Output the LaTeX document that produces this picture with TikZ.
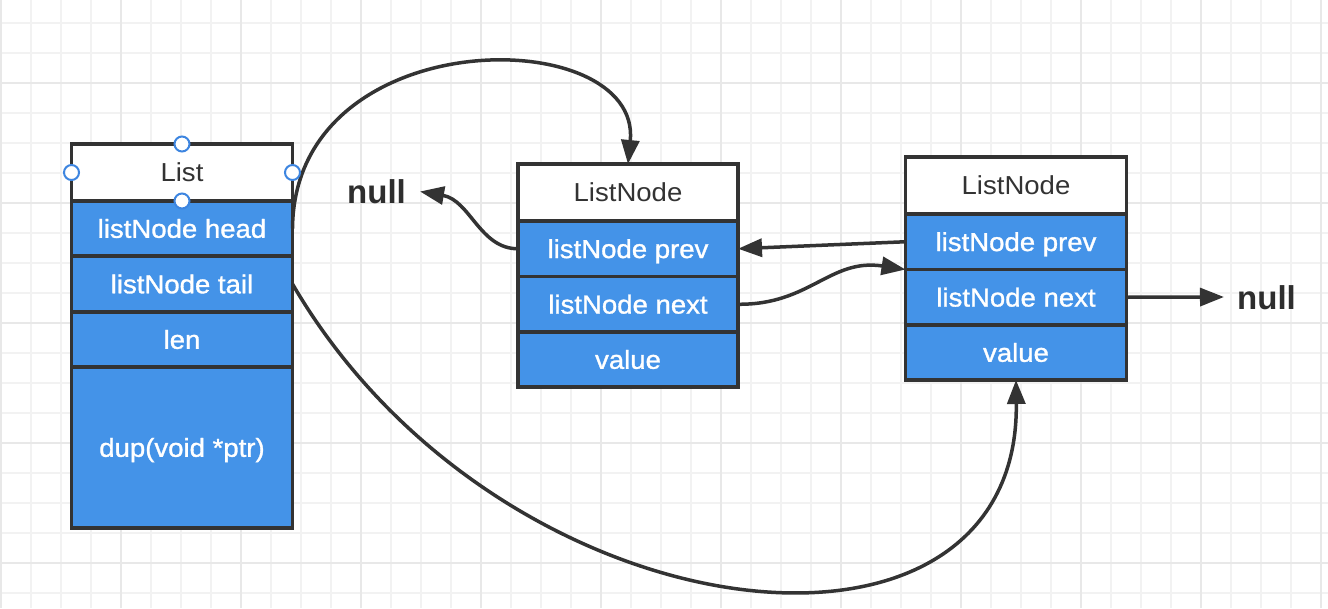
\documentclass[tikz,border=0pt]{standalone}
\usepackage{fontspec}
\setmainfont{Liberation Sans}[FakeStretch=1.06]
\newfontfamily\rowfam{Liberation Sans}[FakeStretch=1.06,FakeBold=1.2]
\newfontfamily\nullfam{Liberation Sans}
\usetikzlibrary{arrows.meta}
\definecolor{cblue}{HTML}{4493E8}
\definecolor{cline}{HTML}{333333}
\definecolor{gminor}{HTML}{F2F2F2}
\definecolor{gmajor}{HTML}{E8E8E8}
\definecolor{chandle}{HTML}{3D85E0}
\begin{document}
\begin{tikzpicture}[x=1pt,y=-1pt,
  box/.style={draw=cline, line width=3.5pt, inner sep=0pt, outer sep=0pt,
    anchor=north, text height=18.6pt, text depth=0pt},
  hdr/.style={box, fill=white, text=cline, font=\fontsize{26}{26}\selectfont},
  row/.style={box, fill=cblue, text=white, font=\rowfam\fontsize{26}{26}\selectfont},
  nulltxt/.style={text=cline!90!black, inner sep=0pt, text height=24pt, text depth=0pt,
    font=\nullfam\bfseries\fontsize{33}{33}\selectfont},
  arr/.style={draw=cline, line width=3.5pt, -{Triangle[length=24pt,width=18pt]}},
  handle/.style={circle, draw=chandle, line width=2pt, fill=white, minimum size=15pt, inner sep=0pt}
]
\useasboundingbox (0,0) rectangle (1328,608);
\fill[white] (0,0) rectangle (1328,608);
% grid
\foreach \x in {1,31,...,1321} \draw[gminor, line width=2pt] (\x,0) -- (\x,608);
\foreach \y in {23,53,...,593} \draw[gminor, line width=2pt] (0,\y) -- (1328,\y);
\foreach \x in {1,121,...,1321} \draw[gmajor, line width=2pt] (\x,0) -- (\x,608);
\foreach \y in {83,203,...,563} \draw[gmajor, line width=2pt] (0,\y) -- (1328,\y);

% List
\node[hdr, minimum width=221pt, minimum height=57pt] (Lh) at (182,144) {List};
\node[row, minimum width=221pt, minimum height=55pt] (Lhead) at (182,201) {listNode head};
\node[row, minimum width=221pt, minimum height=56pt] (Ltail) at (182,256) {listNode tail};
\node[row, minimum width=221pt, minimum height=55pt] (Llen) at (182,312) {len};
\node[row, minimum width=221pt, minimum height=161pt] (Ldup) at (182,367) {dup(void *ptr)};

% ListNode 1
\node[hdr, minimum width=220pt, minimum height=57pt] (A) at (628,164) {ListNode};
\node[row, minimum width=220pt, minimum height=55.5pt] (Ap) at (628,221) {listNode prev};
\node[row, minimum width=220pt, minimum height=55.5pt] (An) at (628,276.5) {listNode next};
\node[row, minimum width=220pt, minimum height=55pt] (Av) at (628,332) {value};

% ListNode 2
\node[hdr, minimum width=221pt, minimum height=57pt] (B) at (1016,157) {ListNode};
\node[row, minimum width=221pt, minimum height=55.5pt] (Bp) at (1016,214) {listNode prev};
\node[row, minimum width=221pt, minimum height=55.5pt] (Bn) at (1016,269.5) {listNode next};
\node[row, minimum width=221pt, minimum height=55pt] (Bv) at (1016,325) {value};

% null labels
\node[nulltxt] (n1) at (376.5,191.5) {null};
\node[nulltxt] (n2) at (1266.5,297) {null};

% connectors
\draw[arr] (Lhead.east) .. controls (294,20) and (642,22) .. (A.north);
\draw[arr] (Ap.west) .. controls (480,249) and (470,200) .. ([xshift=14pt]n1.east);
\draw[arr] (Bp.west) -- (Ap.east);
\draw[arr] (An.east) .. controls (810,305) and (830,258) .. (Bp.south west);
\draw[arr] (Bn.east) -- ([xshift=-13pt]n2.west);
\draw[arr] (Ltail.east) .. controls (500,640) and (1020,700) .. (Bv.south);

% selection handles
\node[handle] (h1) at (Lh.north) {};
\node[handle] (h2) at (Lh.west) {};
\node[handle] (h3) at (Lh.east) {};
\node[handle] (h4) at (Lh.south) {};
\end{tikzpicture}
\end{document}
